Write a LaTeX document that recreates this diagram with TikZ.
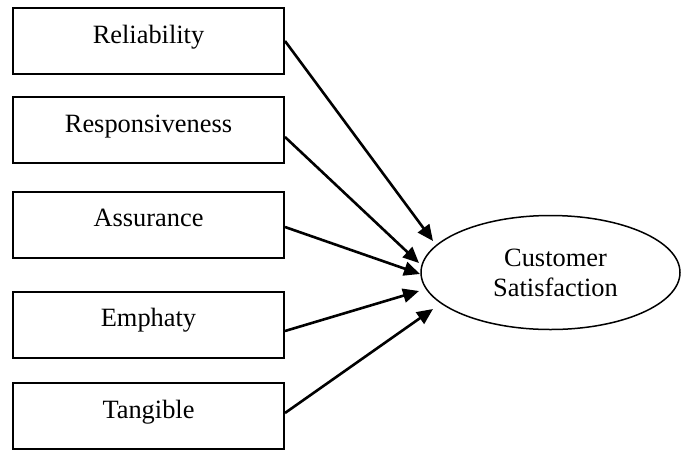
\documentclass[tikz,border=0pt]{standalone}
\usepackage{fontspec}
\setmainfont{Liberation Serif}
\usetikzlibrary{shapes.geometric,arrows.meta,calc}
\begin{document}
\begin{tikzpicture}[x=0.5pt,y=-0.5pt,
  dimbox/.style={draw=black, line width=1pt, rectangle, minimum width=135.5pt,
    minimum height=33pt, inner sep=0pt, text height=10pt, text depth=8pt,
    font=\fontsize{13.2}{15}\selectfont},
  target/.style={draw=black, line width=0.75pt, ellipse, minimum width=129.5pt,
    minimum height=57pt, inner sep=0pt, align=center,
    font=\fontsize{13.2}{15}\selectfont},
  link/.style={line width=1.3pt, -{Triangle[length=8pt,width=7pt]}}]
\useasboundingbox (0,0) rectangle (681,451);
\node[dimbox] (b1) at (148.5,41) {Reliability};
\node[dimbox] (b2) at (148.5,130) {Responsiveness};
\node[dimbox] (b3) at (148.5,224.5) {Assurance};
\node[dimbox] (b4) at (148.5,324.5) {Emphaty};
\node[dimbox] (b5) at (148.5,416) {Tangible};
\node[target] (cs) at (550.5,272.5) {\hspace*{5pt}Customer\\\hspace*{5pt}Satisfaction};
\draw[link] (b1.east) -- ($(cs.center)+(-117.5,-31.5)$);
\draw[link] ($(b2.east)+(0,7)$) -- ($(cs.center)+(-131.5,-9.5)$);
\draw[link] ($(b3.east)+(0,2.5)$) -- ($(cs.center)+(-130.5,1.5)$);
\draw[link] ($(b4.east)+(0,6.5)$) -- ($(cs.center)+(-131.5,18.5)$);
\draw[link] ($(b5.east)+(0,-3)$) -- ($(cs.center)+(-117.5,36.5)$);
\end{tikzpicture}
\end{document}
